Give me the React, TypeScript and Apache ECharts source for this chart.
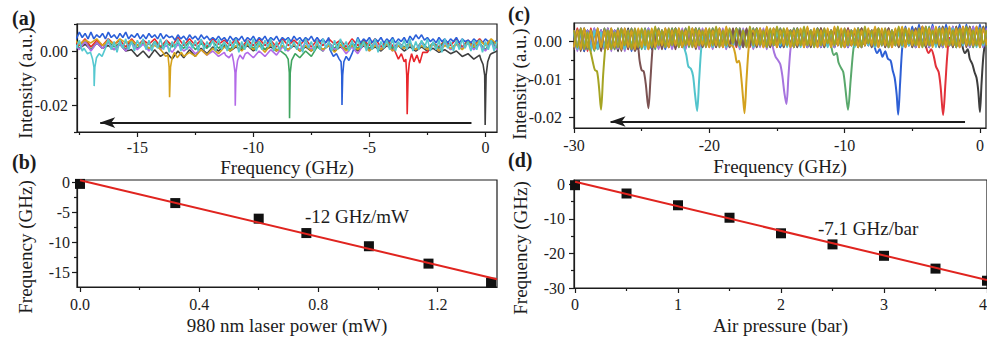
import React, { useEffect, useRef } from "react";
import * as echarts from "echarts";

// ---------- Panel (a): transmission spectra vs 980 nm power (intensity in 1e-3 a.u.) ----------
const aX0 = -17.75; // first sample frequency (GHz)
const aDX = 0.25; // sample spacing (GHz)
const aDXFine = 0.125; // sample spacing for the noisier traces (GHz)
const aBlack = [3, 1, 2.5, 0.5, 3, 1, 2, 0.5, 2.5, 0, 0.5, -2, 0, -2.5, 0.5, -2, -0.5, -3, 0, -2.5, 0.5, -2, 1, -1, 1.5, 0, 2, 0, 1.5, 0.5, 2, 0, 2, 0.5, 1.5, 0, 2, 0.5, 2, 0, 1.5, 0, 2, 0.5, 2, 0, 1.5, 0.5, 2, 0, 2, 0.5, 1.5, 0, 2, 0.5, 2, 0, 1.5, 0, 1.5, 0, 1, -0.5, 0.5, -1, 0, -2, -1, -3, -1.5, -3.5, -1, 0];
const aRed = [4, 2, 4.5, 1.5, 4, 2, 4.5, 2.5, 4, 1.5, 4.5, 2, 4, 2.5, 4.5, 1.5, 4, 2, 5, 2, 4.5, 2, 4, 1.5, 4.5, 2.5, 4, 2, 4.5, 1.5, 4, 2, 4.5, 2, 4, 1.5, 4.5, 2, 4, 2, 4.5, 1.5, 4, 2, 4.5, 2.5, 4, 1.5, 4.5, 2, 4, 2, 4.5, 1.5, 4, 2, 3, 1, 2, 0, 1, -0.5, 3, 1.5, 4, 2, 4.5, 1.5, 4, 2, 4.5, 2, 4, 2.5];
const aBlue = [6.5, 4.5, 7, 5, 6.5, 4.5, 7, 4.5, 6, 5, 6.5, 4.5, 7, 5, 6, 4.5, 6.5, 5, 7, 4.5, 6, 5, 6.5, 4.5, 6, 4.5, 6.5, 5, 6, 4.5, 6.5, 4.5, 6, 5, 5.5, 4, 6, 4.5, 5.5, 4, 6, 4.5, 5.5, 4, 6, 4.5, 5.5, 4, 5, 4, 5.5, 4, 5, 3.5, 5.5, 4, 5, 4, 5.5, 3.5, 5, 4, 5.5, 3.5, 5, 4, 5.5, 3.5, 5, 4, 5.5, 3.5, 5, 4, 5, 3.5, 5.5, 4, 5, 3.5, 5, 4, 5.5, 3.5, 5, 3.5, 4.5, 3, 5, 3.5, 5, 3, 4.5, 3.5, 5, 3, 4.5, 3.5, 5, 3, 4.5, 3.5, 5, 3, 4.5, 3.5, 5, 3, 4.5, 3.5, 5, 3, 4.5, 3.5, 5, 3, 5.5, 4, 6, 4.5, 6, 4, 5, 3.5, 4.5, 3, 5, 3.5, 4.5, 3, 4.5, 3.5, 5, 3, 4.5, 3.5, 4, 3, 4.5, 3.5, 4, 3, 4.5, 3.5, 4, 3, 4];
const aGreen = [3, 1, 3.5, 0.5, 3, 1, 3.5, 1.5, 3, 0.5, 3.5, 1, 3, 0.5, 3.5, 1, 3, 1.5, 3, 1, 3.5, 0.5, 3, 1, 3.5, 1, 3, 0.5, 3.5, 1, 3, 1, 3.5, 0.5, 3, 0.5, 2, 0, -0.5, -2.5, 0, -2, 1.5, 0, 3, 1, 3.5, 0.5, 3, 1, 3.5, 1, 3, 0.5, 3.5, 1, 3, 1.5, 3, 0.5, 3.5, 1, 3, 1, 3.5, 0.5, 3, 1, 3.5, 1, 3, 0.5, 3.5, 1];
const aPurple = [3, 0.5, 3.5, 0, 3, 1, 3, 0.5, 2.5, 0, 3, 0.5, 2.5, 0, 3, 0.5, 2, -0.5, 2.5, 0, 1.5, -1, 0.5, -1.5, 0, -2, -0.5, -2.5, 0, -2, -0.5, -2.5, 0, -2, 0.5, -1.5, 1.5, 0, 2.5, 0.5, 3, 0.5, 2.5, 0, 3, 0.5, 2, -1, 1.5, -1, 2.5, 0, 3, 0.5, 2.5, 0, 3, 1, 2.5, 0.5, 3, 0.5, 2.5, 0, 3, 0.5, 2.5, 1, 3, 0.5, 2.5, 0, 3, 0.5];
const aGold = [4.5, 2.5, 4, 3, 4.5, 2, 4, 2.5, 4.5, 3, 4, 2, 3.5, 1, 2, 0.5, -1, -2, -1, -2, -0.5, -2, 0.5, -1.5, 1, -1, 1.5, 0, 2, 0, 2.5, 0.5, 2, -0.5, 2.5, 0, 2, 0.5, 2.5, 0, 2, 0, 2.5, 0.5, 2, -0.5, 2.5, 0, 2, 0.5, 2.5, 0, 2, 0.5, 2.5, 0, 2, 1, 2.5, 0.5, 2, 0.5, 2.5, 0, 2, 1, 2.5, 0.5, 3, 1.5, 4, 2, 4.5, 2.5];
const aCyan = [4.5, 1, 4, 0, 5, 1.5, 3.5, 0.5, 4.5, 0, 4, 1, 4.5, 0.5, 3.5, -0.5, 4, 1, 4.5, 0.5, 3.5, 0, 4, 1.5, 4.5, 0.5, 4, 0, 3.5, 1, 4.5, 0.5, 4, -0.5, 3.5, 1, 4.5, 0, 4, 0.5, 3.5, 1, 4, 0, 4.5, 0.5, 3.5, 1.5, 4, 0, 4.5, 0.5, 3.5, 0, 4, 1, 4.5, -0.5, 3.5, 0.5, 4, 1, 4.5, 0, 3.5, 0.5, 4, 1.5, 4.5, 0, 3.5, 0.5, 4, 0, 4.5, 1, 3.5, 0.5, 4, -0.5, 4.5, 1, 3.5, 0, 4, 0.5, 4.5, 1, 3.5, 0, 4, 0.5, 4.5, 1.5, 3.5, 0, 4, 0.5, 4.5, 1, 3.5, 0, 4, 0.5, 4.5, -0.5, 3.5, 1, 4, 0.5, 4.5, 0, 3.5, 1, 4, 0.5, 4.5, 0, 3.5, 0.5, 4, 1, 4.5, 0, 3.5, 0.5, 4, -0.5, 4.5, 1, 3.5, 0, 4, 0.5, 4.5, 1, 3.5, 0, 4, 0.5, 4, -0.5, 3.5, 0.5, 4, 0, 3.5];

// resonance dips (frequency GHz, intensity 1e-3 a.u.)
const aBlackDip = [[-0.2, -3], [-0.1, -5], [-0.03, -9], [-0.01, -27.4], [0.01, -27.4], [0.03, -9], [0.1, -4], [0.2, -1.5]];
const aRedDip = [[-3.9, 0], [-3.75, -3], [-3.62, -1], [-3.5, -4], [-3.43, -3], [-3.39, -9], [-3.37, -23.4], [-3.35, -23.4], [-3.33, -9], [-3.28, -4.5], [-3.18, -1], [-3.08, -4], [-2.95, -1.5], [-2.83, -4.5], [-2.7, -0.5]];
const aBlueDip = [[-6.7, 0.5], [-6.55, -2], [-6.42, -1], [-6.3, -3], [-6.22, -4], [-6.19, -9], [-6.18, -20], [-6.16, -20], [-6.15, -9], [-6.1, -4], [-6.0, -2], [-5.88, -3.5], [-5.75, -1], [-5.62, 2]];
const aGreenDip = [[-8.9, 0.5], [-8.75, -0.5], [-8.6, -1.5], [-8.5, -3], [-8.45, -8], [-8.44, -24.9], [-8.42, -24.9], [-8.41, -8], [-8.35, -3.5], [-8.2, -1]];
const aPurpleDip = [[-11.2, -1.5], [-11.05, -2.5], [-10.92, -1], [-10.85, -4], [-10.79, -8], [-10.78, -20.3], [-10.76, -20.3], [-10.75, -8], [-10.68, -3.5], [-10.58, -1.5], [-10.45, -3], [-10.35, -1]];
const aGoldDip = [[-14.05, 1], [-13.9, -0.5], [-13.78, -2], [-13.68, -1.5], [-13.63, -6], [-13.61, -17.1], [-13.59, -17.1], [-13.57, -6], [-13.5, -2.5], [-13.4, -0.5], [-13.28, -2.5], [-13.1, -0.5], [-13.0, -2]];
const aCyanDip = [[-17.3, 1], [-17.15, -1], [-17.02, -0.5], [-16.93, -3], [-16.87, -6], [-16.86, -13], [-16.84, -13], [-16.83, -6], [-16.76, -2.5], [-16.65, -1], [-16.52, -2], [-16.4, 0.5]];

// ---------- Panel (c): transmission spectra vs air pressure (intensity in 1e-3 a.u.) ----------
const cX0 = -30;
const cDX = 0.25;
const cBlack = [3, -2, 3.5, -2.5, 3, -2, 2.5, -2, 3, -1.5, 3.5, -2, 3, -2.5, 3, -1.5, 3.5, -2, 3, -2, 2.5, -1.5, 3, -2, 3.5, -1.5, 3, -1, 3, -1.5, 3.5, -1, 3, -1.5, 3, -1, 3.5, -1.5, 3, -1, 3, -1.5, 3.5, -1, 3, -1.5, 3, -1, 3.5, -1.5, 3, -1, 3, -1.5, 3.5, -1, 3, -1.5, 3, -1, 3.5, -1.5, 3, -1, 3, -1.5, 3.5, -1, 3, -1.5, 3, -1, 3.5, -1.5, 3, -1, 3, -1.5, 3.5, -1, 3, -1.5, 3, -1, 3.5, -1.5, 3, -1, 3, -1.5, 3.5, -1, 3, -1.5, 3, -1, 3.5, -1.5, 3, -1, 3.5, -1.5, 4, -1, 3.5, -1.5, 4, -1, 3.5, -1.5, 4, -1, 3.5, -1.5, 4, -1, 3.5, -1.5, 4, -1, 3.5, -1.5, 4];
const cRed = [-2, 3.5, -1.5, 3, -2.5, 3.5, -2, 3, -1.5, 3.5, -2, 3, -2, 3.5, -1.5, 3, -2, 3.5, -2, 3, -1.5, 3.5, -2, 3, -1.5, 3.5, -1, 3, -1.5, 3.5, -1, 3, -1.5, 3.5, -1, 3, -1.5, 3.5, -1, 3, -1.5, 3.5, -1, 3, -1.5, 3.5, -1, 3, -1.5, 3.5, -1, 3, -1.5, 3.5, -1, 3, -1.5, 3.5, -1, 3, -1.5, 3.5, -1, 3, -1.5, 3.5, -1, 3, -1.5, 3.5, -1, 3, -1.5, 3.5, -1, 3, -1.5, 3.5, -1, 3, -1.5, 3.5, -1, 3, -1.5, 3.5, -1, 3, -1, 3.5, -1.5, 3, -1, 3.5, -1.5, 3, -1, 3.5, -1.5, 3, -1, 3.5, -1.5, 4, -1, 3.5, -1.5, 4, -1, 3.5, -1.5, 4, -1, 3.5, -1.5, 4, -1, 3.5, -1.5, 4, -1, 3.5, -1.5];
const cBlue = [3, -2, 2.5, -2.5, 3, -2, 3.5, -1.5, 3, -2, 2.5, -2, 3, -1.5, 3.5, -2, 3, -2.5, 2.5, -2, 3, -1.5, 3.5, -2, 3, -1.5, 2.5, -2, 3, -1.5, 3.5, -1, 3, -1.5, 3, -1, 3.5, -1.5, 3, -1, 3, -1.5, 3.5, -1, 3, -1.5, 3, -1, 3.5, -1.5, 3, -1, 3, -1.5, 3.5, -1, 3, -1.5, 3, -1, 3.5, -1.5, 3, -1, 3, -1.5, 3.5, -1, 3, -1.5, 3, -1, 3.5, -1.5, 3, -1, 3, -1.5, 3.5, -1, 3, -1.5, 3, -1, 3.5, -1.5, 3, -1, 3, -1.5, 3.5, -1, 3, -1.5, 3, -1, 3.5, -1.5, 4, -1, 4, -1.5, 4.5, -1, 4, -1.5, 4.5, -1, 4, -1.5, 4.5, -1, 4, -1.5, 4.5, -1, 4.5, -1.5, 4, -1, 4.5, -1.5, 4];
const cGreen = [-2, 3, -1.5, 3.5, -2, 3, -2.5, 3, -2, 3.5, -1.5, 3, -2, 3.5, -2, 3, -1.5, 3.5, -2, 3, -2, 3.5, -1.5, 3, -2, 3.5, -1.5, 3, -1, 3.5, -1.5, 3, -1, 3.5, -1.5, 3, -1, 3.5, -1.5, 3, -1, 3.5, -1.5, 3, -1, 3.5, -1.5, 3, -1, 3.5, -1.5, 3, -1, 3.5, -1.5, 3, -1, 3.5, -1.5, 3, -1, 3.5, -1.5, 3, -1, 3.5, -1.5, 3, -1, 3.5, -1.5, 3, -1, 3.5, -1.5, 3, -1, 3.5, -1, 3, -1.5, 3.5, -1, 3, -1.5, 3.5, -1, 3, -1.5, 3.5, -1, 3, -1.5, 3.5, -1, 3, -1.5, 3.5, -1, 3, -1.5, 3.5, -1, 3, -1.5, 4, -1, 3.5, -1.5, 4, -1, 3.5, -1.5, 4, -1, 3.5, -1, 4, -1.5, 3.5, -1, 4, -1.5];
const cPurple = [3, -2.5, 3.5, -2, 3, -2.5, 3.5, -2, 3, -2, 3.5, -2.5, 3, -2, 3.5, -2.5, 3, -2, 3.5, -1.5, 3, -2, 3.5, -1.5, 3, -2, 3, -1.5, 3.5, -2, 3, -1.5, 3.5, -2, 3, -1.5, 3, -2, 3.5, -1.5, 3, -2, 3, -1.5, 3.5, -2, 3, -1.5, 3, -2, 3.5, -1.5, 3, -2, 3, -1.5, 3.5, -2, 3, -1.5, 3, -1.5, 3.5, -1, 3, -1.5, 3, -1, 3.5, -1.5, 3, -1, 3, -1.5, 3.5, -1, 3, -1.5, 3, -1, 3.5, -1.5, 3, -1, 3, -1.5, 3.5, -1, 3, -1.5, 3, -1, 3.5, -1.5, 3, -1, 3, -1.5, 3.5, -1, 3, -1.5, 3.5, -1, 3, -1.5, 4, -1, 3.5, -1.5, 3.5, -1, 4, -1.5, 3.5, -1, 3.5, -1.5, 4, -1, 3.5, -1.5, 3.5];
const cCyan = [2.5, -2, 3, -1.5, 2.5, -2.5, 3, -2, 2.5, -1.5, 3, -2, 2.5, -1.5, 3, -2, 2.5, -1, 3, -1.5, 2.5, -2, 3, -1.5, 2.5, -1, 3, -1.5, 2.5, -1, 3, -1.5, 2.5, -1, 3, -2, 2.5, -1.5, 3, -1, 2.5, -1.5, 3, -1, 2.5, -1.5, 3, -1, 2.5, -1.5, 3, -1, 2.5, -1.5, 3, -1, 2.5, -1.5, 3, -1, 2.5, -1, 3, -1.5, 2.5, -1, 3, -1.5, 2.5, -1, 3, -1.5, 2.5, -1, 3, -1.5, 2.5, -1, 3, -1.5, 2.5, -1, 3, -1.5, 2.5, -1, 3, -1, 2.5, -1.5, 3, -1, 2.5, -1.5, 3, -1, 2.5, -1.5, 3, -1, 2.5, -1, 3, -1.5, 3.5, -1, 3, -1.5, 3.5, -1, 3, -1, 3.5, -1.5, 3, -1, 3.5, -1, 3, -1.5, 3.5, -1, 3];
const cBrown = [-2, 3, -2.5, 3.5, -1.5, 3, -2, 3.5, -2.5, 3, -2, 3.5, -1.5, 3, -2.5, 3.5, -2, 3, -1.5, 3.5, -2, 3, -2.5, 3.5, -1.5, 3, -2, 3.5, -1.5, 3, -2, 3.5, -1.5, 3, -1, 3.5, -2, 3, -1.5, 3.5, -1, 3, -1.5, 3.5, -1, 3, -1.5, 3.5, -1, 3, -1.5, 3.5, -1, 3, -1.5, 3.5, -1, 3, -1.5, 3.5, -1, 3, -1.5, 3.5, -1, 3, -1.5, 3, -1, 3.5, -1.5, 3, -1, 3.5, -1.5, 3, -1, 3.5, -1, 3, -1.5, 3.5, -1, 3, -1.5, 3.5, -1, 3, -1.5, 3.5, -1, 3, -1.5, 3.5, -1, 3, -1.5, 3.5, -1, 3, -1.5, 3.5, -1, 4, -1.5, 3.5, -1, 3, -1.5, 4, -1, 3.5, -1.5, 4, -1, 3.5, -1.5, 4, -1, 3.5, -1.5, 4, -1];
const cGold = [-1.5, 3, -2, 3.5, -1.5, 3, -2, 3.5, -1.5, 3, -2, 3.5, -1.5, 3, -2, 3.5, -1.5, 3, -2, 3.5, -1.5, 3, -2, 3.5, -1.5, 3, -1, 3.5, -1.5, 3, -1, 3.5, -1.5, 3, -1, 3.5, -1.5, 3, -1, 3.5, -1.5, 3, -1, 3.5, -1.5, 4, -1, 3.5, -1.5, 3, -1, 3.5, -1.5, 3, -1, 3.5, -1.5, 4, -1, 3.5, -1.5, 3, -1, 3.5, -1.5, 3, -1, 3.5, -1.5, 4, -1, 3.5, -1.5, 3, -1, 3.5, -1.5, 4, -1, 3.5, -1.5, 3, -1, 3.5, -1.5, 3, -1, 3.5, -1, 4, -1.5, 3.5, -1, 3, -1.5, 3.5, -1, 4, -1.5, 3.5, -1, 3, -1.5, 4, -1, 3.5, -1.5, 4, -1, 3.5, -1.5, 4, -1, 3.5, -1.5, 4, -1, 3.5, -1, 4, -1.5, 3.5, -1];
const cOlive = [3, -1.5, 3.5, -2, 2.5, -1, 3, -2.5, 3.5, -1.5, 3, -2, 2.5, -1.5, 3.5, -1, 3, -2, 3.5, -1.5, 3.5, -1, 3, -1.5, 4, -1, 3, -1.5, 3.5, -1, 3.5, -1.5, 3, -1, 4, -1.5, 3.5, -1, 3, -1.5, 3.5, -1, 4, -1.5, 3, -1, 3.5, -0.5, 3.5, -1, 3, -1.5, 4, -1, 3.5, -1, 3, -1.5, 3.5, -1, 4, -0.5, 3.5, -1, 3, -1.5, 3.5, -1, 4, -1, 3, -1.5, 3.5, -1, 3.5, -0.5, 3, -1, 4, -1.5, 3.5, -1, 3, -1, 3.5, -1.5, 4, -0.5, 3, -1, 3.5, -1, 3.5, -1.5, 3, -1, 4, -1, 3.5, -0.5, 3, -1, 3.5, -1.5, 4, -1, 3, -0.5, 3.5, -1, 3.5, -1, 3, -1.5, 3.5, -0.5, 4, -1, 3, -1, 3.5, -0.5, 3];

const cBlackDip = [[-1.3, -1], [-1.1, -3], [-0.9, -2], [-0.75, -4.5], [-0.55, -6], [-0.4, -8], [-0.25, -9.5], [-0.12, -13], [0, -18.5], [0.12, -11], [0.25, -4], [0.4, 0.5]];
const cRedDip = [[-4.0, -1], [-3.8, -3], [-3.6, -2], [-3.4, -4], [-3.25, -6.5], [-3.05, -8], [-2.9, -12], [-2.72, -19.3], [-2.55, -11], [-2.4, -3], [-2.25, 1]];
const cBlueDip = [[-7.8, -1], [-7.6, -3], [-7.4, -2], [-7.2, -4], [-7.0, -2.5], [-6.8, -4.5], [-6.6, -5], [-6.45, -7.5], [-6.3, -9.5], [-6.15, -14], [-6.04, -19.2], [-5.9, -11], [-5.75, -2], [-5.6, 1.5]];
const cGreenDip = [[-11.0, -1], [-10.8, -3.5], [-10.6, -3], [-10.45, -5.5], [-10.25, -7], [-10.1, -8], [-9.95, -12], [-9.75, -17.9], [-9.55, -10], [-9.35, -2], [-9.15, 1.5]];
const cPurpleDip = [[-15.3, -1.5], [-15.1, -4], [-14.9, -5], [-14.75, -6], [-14.6, -9], [-14.45, -13.5], [-14.3, -16.4], [-14.15, -9], [-14.0, -2], [-13.85, 1]];
const cCyanDip = [[-21.9, -1], [-21.7, -3.5], [-21.55, -6.5], [-21.35, -7.2], [-21.2, -9], [-21.05, -14], [-20.9, -18.2], [-20.75, -10], [-20.6, -2], [-20.45, 1.5]];
const cBrownDip = [[-25.5, -2.5], [-25.3, -1], [-25.15, -5], [-25.0, -7.5], [-24.85, -7.8], [-24.7, -11], [-24.5, -17.5], [-24.35, -10], [-24.2, -2], [-24.05, 2]];
const cGoldDip = [[-18.3, -1], [-18.1, -3], [-17.95, -5.5], [-17.8, -5], [-17.65, -9], [-17.5, -15], [-17.4, -18.8], [-17.25, -10], [-17.1, -2], [-16.95, 2]];
const cOliveDip = [[-28.9, -1], [-28.75, -3], [-28.6, -5.5], [-28.45, -7.5], [-28.3, -7.8], [-28.15, -12], [-28.0, -17.9], [-27.85, -9], [-27.7, -2], [-27.55, 2.5]];

// arrows (frequency GHz, intensity a.u.)
const aArrow = { from: -0.6, to: -16.6, y: -0.0265 };
const cArrow = { from: -1.1, to: -27.3, y: -0.021 };

// ---------- Panel (b): shift vs 980 nm laser power ----------
const bPower = [0, 0.32, 0.6, 0.76, 0.97, 1.17, 1.38];
const bShift = [-0.2, -3.4, -6.0, -8.4, -10.6, -13.5, -16.7];
const bFitX = [0, 1.4];
const bFitY = [0.4, -16.1];

// ---------- Panel (d): shift vs air pressure ----------
const dPressure = [0, 0.5, 1, 1.5, 2, 2.5, 3, 3.5, 4];
const dShift = [-0.3, -2.7, -6.1, -9.7, -14.2, -17.4, -20.7, -24.4, -27.9];
const dFitX = [0, 4];
const dFitY = [0.7, -27.7];

// ticks
const aXMajor = [-15, -10, -5, 0];
const aXMinor = [-17.5, -12.5, -7.5, -2.5];
const aYMajor = [0, -0.02];
const aYMinor = [0.01, -0.01, -0.03];
const cXMajor = [-30, -20, -10, 0];
const cXMinor = [-25, -15, -5];
const cYMajor = [0, -0.01, -0.02];
const cYMinor = [-0.005, -0.015];
const bXMajor = [0, 0.4, 0.8, 1.2];
const bXMinor = [0.2, 0.6, 1.0];
const bYMajor = [0, -5, -10, -15];
const bYMinor = [-2.5, -7.5, -12.5];
const dXMajor = [0, 1, 2, 3, 4];
const dXMinor = [0.5, 1.5, 2.5, 3.5];
const dYMajor = [0, -10, -20, -30];
const dYMinor = [-5, -15, -25];

const FONT = "Liberation Serif";
const INK = "#1c1c1c";
const TICK_FS = 16;

function trace(x0: number, dx: number, base: number[], dip: number[][]) {
  const lo = dip[0][0];
  const hi = dip[dip.length - 1][0];
  const pts: number[][] = [];
  base.forEach((v, i) => {
    const x = +(x0 + dx * i).toFixed(3);
    if (x < lo || x > hi) pts.push([x, v / 1000]);
  });
  dip.forEach(([x, v]) => pts.push([x, v / 1000]));
  pts.sort((p, q) => p[0] - q[0]);
  return pts;
}

function labelCfg(major: number[], fmt: (v: number) => string, margin: number, extra: any = {}) {
  return {
    show: true,
    customValues: major,
    margin,
    formatter: fmt,
    fontFamily: FONT,
    fontSize: TICK_FS,
    color: INK,
    ...extra,
  };
}

function xAxes(gridIndex: number, min: number, max: number, major: number[], minor: number[], fmt: (v: number) => string, margin: number, name: string, nameGap: number) {
  return [
    {
      type: "value", gridIndex, min, max, position: "bottom",
      name, nameLocation: "middle", nameGap, nameMoveOverlap: false,
      nameTextStyle: { fontFamily: FONT, fontSize: 19, color: INK },
      axisLine: { show: true, onZero: false, lineStyle: { color: INK, width: 1.2 } },
      axisTick: { show: true, customValues: major, length: 5, lineStyle: { color: INK, width: 1.2 } },
      axisLabel: labelCfg(major, fmt, margin, gridIndex === 3 ? { alignMaxLabel: "right" } : {}),
      splitLine: { show: false },
    },
    {
      type: "value", gridIndex, min, max, position: "bottom",
      axisLine: { show: false, onZero: false },
      axisTick: { show: true, customValues: minor, length: 3, lineStyle: { color: INK, width: 1.2 } },
      axisLabel: { show: false },
      splitLine: { show: false },
    },
  ];
}

function yAxes(gridIndex: number, min: number, max: number, major: number[], minor: number[], fmt: (v: number) => string, margin: number) {
  return [
    {
      type: "value", gridIndex, min, max, position: "left",
      axisLine: { show: true, onZero: false, lineStyle: { color: INK, width: 1.2 } },
      axisTick: { show: true, customValues: major, length: 5, lineStyle: { color: INK, width: 1.2 } },
      axisLabel: labelCfg(major, fmt, margin),
      splitLine: { show: false },
    },
    {
      type: "value", gridIndex, min, max, position: "left",
      axisLine: { show: false, onZero: false },
      axisTick: { show: true, customValues: minor, length: 3, lineStyle: { color: INK, width: 1.2 } },
      axisLabel: { show: false },
      splitLine: { show: false },
    },
  ];
}

function lineSeries(axis: number, data: number[][], color: string, width: number, smooth: number | boolean) {
  return {
    type: "line", xAxisIndex: axis, yAxisIndex: axis, data, symbol: "none", smooth,
    lineStyle: { color, width }, itemStyle: { color }, silent: true, clip: true,
  };
}

function arrowSeries(axis: number, arr: { from: number; to: number; y: number }) {
  return {
    type: "line", xAxisIndex: axis, yAxisIndex: axis, data: [], symbol: "none", silent: true,
    markLine: {
      silent: true, symbol: ["none", "arrow"], symbolSize: [8, 15],
      label: { show: false },
      lineStyle: { color: INK, width: 2, type: "solid" },
      emphasis: { disabled: true },
      data: [[{ coord: [arr.from, arr.y] }, { coord: [arr.to, arr.y] }]],
    },
  };
}

function textEl(text: string, x: number, y: number, opts: any = {}) {
  return {
    type: "text", x, y, rotation: opts.rotation || 0, silent: true,
    style: {
      text, fill: INK, align: opts.align || "left", verticalAlign: "middle",
      fontFamily: FONT, fontSize: opts.size || 19, fontWeight: opts.bold ? "bold" : "normal",
    },
  };
}

export default function App() {
  const ref = useRef<HTMLDivElement>(null);
  useEffect(() => {
    if (!ref.current) return;
    const chart = echarts.init(ref.current, undefined, { renderer: "svg" });

    const aTraces = [
      [aBlack, aBlackDip, "#3f3f3f", aDX],
      [aRed, aRedDip, "#e8262b", aDX],
      [aBlue, aBlueDip, "#2b5fd8", aDXFine],
      [aGreen, aGreenDip, "#3fa45f", aDX],
      [aPurple, aPurpleDip, "#b36ae8", aDX],
      [aGold, aGoldDip, "#d6a21c", aDX],
      [aCyan, aCyanDip, "#55c8d0", aDXFine],
    ] as [number[], number[][], string, number][];
    const cTraces = [
      [cBlack, cBlackDip, "#3d3d3d"],
      [cRed, cRedDip, "#e2313a"],
      [cBlue, cBlueDip, "#2d5fd5"],
      [cGreen, cGreenDip, "#59a86c"],
      [cPurple, cPurpleDip, "#a674de"],
      [cCyan, cCyanDip, "#52c4cc"],
      [cBrown, cBrownDip, "#7b5252"],
      [cGold, cGoldDip, "#d3a11e"],
      [cOlive, cOliveDip, "#a5a422"],
    ] as [number[], number[][], string][];

    const series: any[] = [];
    aTraces.forEach(([b, d, col, dx]) => series.push(lineSeries(0, trace(aX0, dx, b, d), col, 1.6, false)));
    series.push(arrowSeries(0, aArrow));
    cTraces.forEach(([b, d, col]) => series.push(lineSeries(4, trace(cX0, cDX, b, d), col, 2, 0.3)));
    series.push(arrowSeries(4, cArrow));

    series.push({
      type: "scatter", xAxisIndex: 2, yAxisIndex: 2, symbol: "rect", symbolSize: 10,
      itemStyle: { color: "#111", opacity: 1 }, data: bPower.map((x, i) => [x, bShift[i]]), z: 2, silent: true, clip: false,
    });
    series.push({ ...lineSeries(2, bFitX.map((x, i) => [x, bFitY[i]]), "#e0241f", 2, false), z: 3 });
    series.push({
      type: "scatter", xAxisIndex: 6, yAxisIndex: 6, symbol: "rect", symbolSize: 10,
      itemStyle: { color: "#111", opacity: 1 }, data: dPressure.map((x, i) => [x, dShift[i]]), z: 2, silent: true, clip: false,
    });
    series.push({ ...lineSeries(6, dFitX.map((x, i) => [x, dFitY[i]]), "#e0241f", 2, false), z: 3 });

    const gridBase = { show: true, borderColor: INK, borderWidth: 1.2, backgroundColor: "transparent", containLabel: false, outerBoundsMode: "none" };

    const option: any = {
      animation: false,
      backgroundColor: "#ffffff",
      textStyle: { fontFamily: FONT, fontSize: TICK_FS },
      grid: [
        { ...gridBase, left: 77, top: 24, width: 420, height: 108 },
        { ...gridBase, left: 77, top: 180, width: 420, height: 107 },
        { ...gridBase, left: 574, top: 23, width: 412, height: 105 },
        { ...gridBase, left: 574, top: 180, width: 413, height: 108 },
      ],
      xAxis: [
        ...xAxes(0, -17.6, 0.5, aXMajor, aXMinor, (v) => String(v), 7, "Frequency (GHz)", 26),
        ...xAxes(1, -0.01, 1.4, bXMajor, bXMinor, (v) => v.toFixed(1), 9, "980 nm laser power (mW)", 29),
        ...xAxes(2, -30, 0.45, cXMajor, cXMinor, (v) => String(v), 9, "Frequency (GHz)", 29),
        ...xAxes(3, -0.01, 4, dXMajor, dXMinor, (v) => String(v), 8, "Air pressure (bar)", 28),
      ],
      yAxis: [
        ...yAxes(0, -0.03, 0.01, aYMajor, aYMinor, (v) => v.toFixed(2), 9),
        ...yAxes(1, -17.4, 0.45, bYMajor, bYMinor, (v) => String(v), 7),
        ...yAxes(2, -0.0227, 0.0049, cYMajor, cYMinor, (v) => v.toFixed(2), 12),
        ...yAxes(3, -30, 1.2, dYMajor, dYMinor, (v) => String(v), 9),
      ],
      graphic: [
        textEl("(a)", 12, 18, { bold: true, size: 20 }),
        textEl("(b)", 12, 162, { bold: true, size: 20 }),
        textEl("(c)", 508, 14, { bold: true, size: 20 }),
        textEl("(d)", 508, 160, { bold: true, size: 20 }),
        textEl("Intensity (a.u.)", 25, 83, { rotation: Math.PI / 2, align: "center" }),
        textEl("Frequency (GHz)", 25, 247, { rotation: Math.PI / 2, align: "center" }),
        textEl("Intensity (a.u.)", 519, 84, { rotation: Math.PI / 2, align: "center" }),
        textEl("Frequency (GHz)", 520, 248, { rotation: Math.PI / 2, align: "center" }),
        textEl("-12 GHz/mW", 305, 216),
        textEl("-7.1 GHz/bar", 818, 228),
      ],
      series,
    };
    chart.setOption(option);
    return () => chart.dispose();
  }, []);

  return (
    <div
      ref={ref}
      style={{ position: "fixed", left: 0, top: 0, width: 987, height: 339, background: "#fff" }}
    />
  );
}
